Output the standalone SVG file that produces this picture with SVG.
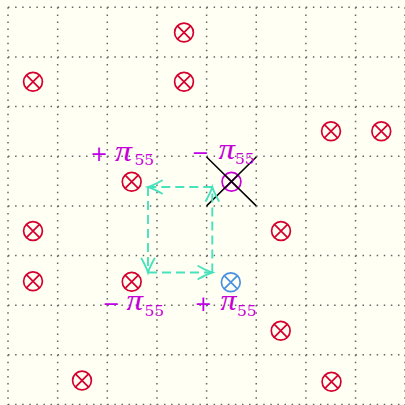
<svg xmlns="http://www.w3.org/2000/svg" xmlns:xlink="http://www.w3.org/1999/xlink" width="405" height="405" viewBox="0 0 405 405">
<style>
.grid{stroke:#666;stroke-width:1.5;stroke-dasharray:1.5 5.59;fill:none}
.red{stroke:#d5002d}
.blue{stroke:#4a90e2}
.mag{stroke:#c800d8}
.loop{stroke:#48e2bc;stroke-width:1.9;stroke-dasharray:9 5;fill:none}
.sign{font-family:"DejaVu Sans",sans-serif;font-size:21px;fill:#c000e8;text-anchor:middle}
.pi{font-family:"Liberation Serif",serif;font-style:italic;font-size:29px;fill:#c800d8}
.sub{font-family:"DejaVu Serif",serif;font-size:15.5px;fill:#c800d8}
</style>
<defs>
<g id="ox" fill="none" stroke-width="1.7">
<circle r="9.4"/>
<path d="M-6.6-6.6L6.6 6.6M-6.6 6.6L6.6-6.6"/>
</g>
<marker id="ah" markerUnits="userSpaceOnUse" markerWidth="16" markerHeight="16" refX="0" refY="0" viewBox="-14 -8 16 16" orient="auto" overflow="visible">
<path d="M-14-6.5Q-5-1.5 0 0Q-5 1.5-14 6.5" fill="none" stroke="#48e2bc" stroke-width="1.9" stroke-dasharray="none" stroke-linecap="round"/>
</marker>
</defs>
<rect width="405" height="405" fill="#fffff4"/>
<g id="grid" class="grid">
<path d="M8 7.3V405M57.65 7.3V405M107.3 7.3V405M156.95 7.3V405M206.6 7.3V405M256.25 7.3V405M305.9 7.3V405M355.55 7.3V405M405 7.3V405"/>
<path d="M8 7.3H405M8 56.95H405M8 106.6H405M8 156.25H405M8 205.9H405M8 255.55H405M8 305.2H405M8 354.85H405M8 404.5H405"/>
</g>
<g id="n1" class="red"><use xlink:href="#ox" x="184" y="32.5"/></g>
<g id="n2" class="red"><use xlink:href="#ox" x="33" y="81.8"/></g>
<g id="n3" class="red"><use xlink:href="#ox" x="184" y="81.8"/></g>
<g id="n4" class="red"><use xlink:href="#ox" x="331" y="131.3"/></g>
<g id="n5" class="red"><use xlink:href="#ox" x="381.3" y="131.3"/></g>
<g id="n6" class="red"><use xlink:href="#ox" x="131.7" y="181.7"/></g>
<g id="n7" class="mag">
<use xlink:href="#ox" x="231.5" y="181.7"/>
</g>
<g id="cross" stroke="#000" stroke-width="1.5">
<path d="M206.6 157L256.25 205.9M206.6 205.9L256.25 157"/>
</g>
<g id="n8" class="red"><use xlink:href="#ox" x="33" y="231"/></g>
<g id="n9" class="red"><use xlink:href="#ox" x="281" y="231"/></g>
<g id="n10" class="red"><use xlink:href="#ox" x="33" y="281.3"/></g>
<g id="n11" class="red"><use xlink:href="#ox" x="131.7" y="281.7"/></g>
<g id="n12" class="blue"><use xlink:href="#ox" x="230.8" y="282.3"/></g>
<g id="n13" class="red"><use xlink:href="#ox" x="280.7" y="330.8"/></g>
<g id="n14" class="red"><use xlink:href="#ox" x="82" y="380.5"/></g>
<g id="n15" class="red"><use xlink:href="#ox" x="331.5" y="381.7"/></g>
<g id="connectors" class="loop">
<path d="M212.3 187H148" marker-end="url(#ah)"/>
<path d="M148 187V272.5" marker-end="url(#ah)"/>
<path d="M148 272.5H212.3" marker-end="url(#ah)"/>
<path d="M212.3 272.5V187" marker-end="url(#ah)"/>
</g>
<g id="label1">
<text class="sign" x="99" y="160.5">+</text>
<text class="pi" x="115" y="160.7" textLength="17" lengthAdjust="spacingAndGlyphs">π</text>
<text class="sub" x="134.5" y="164.8">55</text>
</g>
<g id="label2">
<text class="sign" x="200.5" y="159.8">−</text>
<text class="pi" x="218.5" y="159" textLength="16.5" lengthAdjust="spacingAndGlyphs">π</text>
<text class="sub" x="235" y="163.8">55</text>
</g>
<g id="label3">
<text class="sign" x="111.3" y="310.8">−</text>
<text class="pi" x="126.5" y="310" textLength="16.5" lengthAdjust="spacingAndGlyphs">π</text>
<text class="sub" x="144.5" y="316.3">55</text>
</g>
<g id="label4">
<text class="sign" x="203.3" y="310.8">+</text>
<text class="pi" x="220.5" y="310" textLength="16" lengthAdjust="spacingAndGlyphs">π</text>
<text class="sub" x="237" y="316.3">55</text>
</g>
</svg>
